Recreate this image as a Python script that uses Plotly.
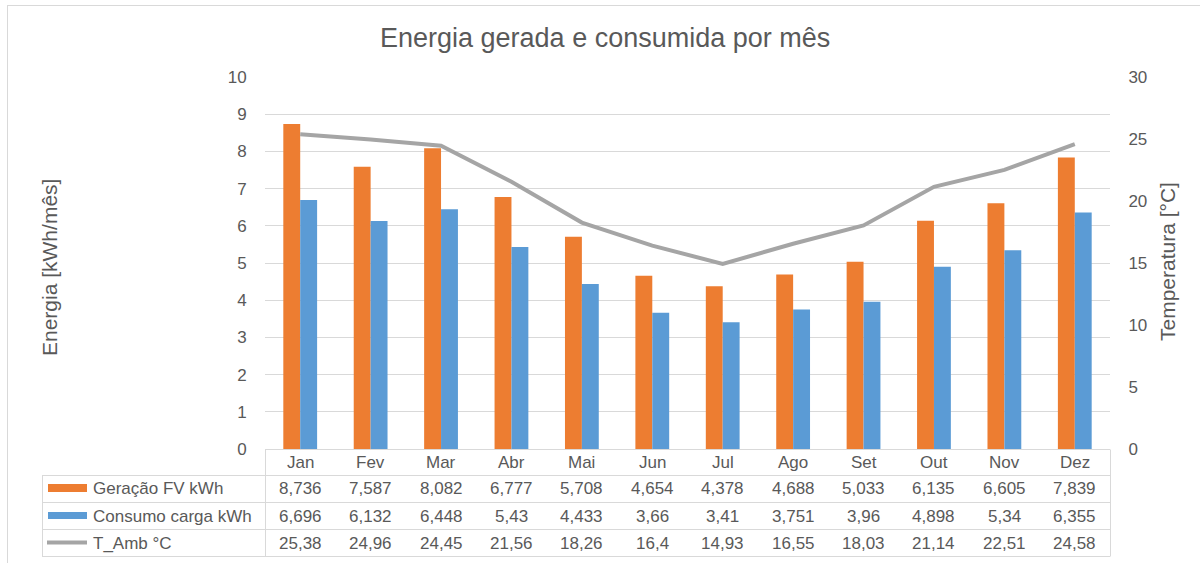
import plotly.graph_objects as go

months = ["Jan", "Fev", "Mar", "Abr", "Mai", "Jun", "Jul", "Ago", "Set", "Out", "Nov", "Dez"]
geracao = [8.736, 7.587, 8.082, 6.777, 5.708, 4.654, 4.378, 4.688, 5.033, 6.135, 6.605, 7.839]
consumo = [6.696, 6.132, 6.448, 5.43, 4.433, 3.66, 3.41, 3.751, 3.96, 4.898, 5.34, 6.355]
t_amb = [25.38, 24.96, 24.45, 21.56, 18.26, 16.4, 14.93, 16.55, 18.03, 21.14, 22.51, 24.58]
series_names = ["Geração FV kWh", "Consumo carga kWh", "T_Amb °C"]

W, H = 1200, 563
PL, PR, PT, PB = 265, 1110, 77, 449
FONT = "Liberation Sans, Arial, sans-serif"
TXT = "#595959"
GRID = "#D9D9D9"
ORANGE = "#ED7D31"
BLUE = "#5B9BD5"
GRAY = "#A5A5A5"


def px_x(px):
    return (px - PL) / (PR - PL)


def px_y(py):
    return (PB - py) / (PB - PT)


def fmt(v):
    return str(v).replace(".", ",")


fig = go.Figure()
fig.add_trace(go.Bar(x=months, y=geracao, name=series_names[0], marker=dict(color=ORANGE, line=dict(width=0))))
fig.add_trace(go.Bar(x=months, y=consumo, name=series_names[1], marker=dict(color=BLUE, line=dict(width=0))))
fig.add_trace(go.Scatter(x=months, y=t_amb, name=series_names[2], mode="lines",
                         line=dict(color=GRAY, width=4), yaxis="y2"))

shapes = []
line_style = dict(color=GRID, width=1)
# outer chart border
shapes.append(dict(type="line", xref="paper", yref="paper", x0=px_x(7), x1=px_x(1205), y0=px_y(5.5), y1=px_y(5.5), line=line_style))
shapes.append(dict(type="line", xref="paper", yref="paper", x0=px_x(7.5), x1=px_x(7.5), y0=px_y(5), y1=px_y(570), line=line_style))
# table lines
shapes.append(dict(type="line", xref="paper", yref="paper", x0=px_x(PL), x1=px_x(PR), y0=px_y(449.5), y1=px_y(449.5), line=line_style))
for yy in [475.5, 502.5, 529.5, 556.5]:
    shapes.append(dict(type="line", xref="paper", yref="paper", x0=px_x(42), x1=px_x(PR), y0=px_y(yy), y1=px_y(yy), line=line_style))
shapes.append(dict(type="line", xref="paper", yref="paper", x0=px_x(42.5), x1=px_x(42.5), y0=px_y(475.5), y1=px_y(556.5), line=line_style))
shapes.append(dict(type="line", xref="paper", yref="paper", x0=px_x(PL + 0.5), x1=px_x(PL + 0.5), y0=px_y(449.5), y1=px_y(556.5), line=line_style))
shapes.append(dict(type="line", xref="paper", yref="paper", x0=px_x(PR + 0.5), x1=px_x(PR + 0.5), y0=px_y(449.5), y1=px_y(556.5), line=line_style))
# legend keys
shapes.append(dict(type="rect", xref="paper", yref="paper", x0=px_x(48), x1=px_x(87), y0=px_y(484), y1=px_y(492), fillcolor=ORANGE, line=dict(width=0)))
shapes.append(dict(type="rect", xref="paper", yref="paper", x0=px_x(48), x1=px_x(87), y0=px_y(512), y1=px_y(519), fillcolor=BLUE, line=dict(width=0)))
shapes.append(dict(type="line", xref="paper", yref="paper", x0=px_x(47), x1=px_x(87), y0=px_y(542.5), y1=px_y(542.5), line=dict(color=GRAY, width=4)))

annotations = []
row_y = [489, 516, 543]
for name, yy in zip(series_names, row_y):
    annotations.append(dict(text=name, xref="paper", yref="paper", x=px_x(91), y=px_y(yy), xanchor="left", yanchor="middle",
                            showarrow=False, font=dict(family=FONT, size=17, color=TXT)))
for i, m in enumerate(months):
    annotations.append(dict(text=m, xref="x", yref="paper", x=m, y=px_y(462), xanchor="center", yanchor="middle",
                            showarrow=False, font=dict(family=FONT, size=17, color=TXT)))
    for vals, yy in zip([geracao, consumo, t_amb], row_y):
        annotations.append(dict(text=fmt(vals[i]), xref="x", yref="paper", x=m, y=px_y(yy), xanchor="center", yanchor="middle",
                                showarrow=False, font=dict(family=FONT, size=17, color=TXT)))
# axis titles
annotations.append(dict(text="Energia [kWh/mês]", xref="paper", yref="paper", x=px_x(49), y=px_y(268), textangle=-90,
                        xanchor="center", yanchor="middle", showarrow=False, font=dict(family=FONT, size=21, color=TXT)))
annotations.append(dict(text="Temperatura [°C]", xref="paper", yref="paper", x=px_x(1167), y=px_y(262), textangle=-90,
                        xanchor="center", yanchor="middle", showarrow=False, font=dict(family=FONT, size=21, color=TXT)))
annotations.append(dict(text="Energia gerada e consumida por mês", xref="paper", yref="paper", x=px_x(605), y=px_y(38),
                        xanchor="center", yanchor="middle", showarrow=False, font=dict(family=FONT, size=27, color=TXT)))

fig.update_layout(
    width=W, height=H,
    margin=dict(l=PL, r=W - PR, t=PT, b=H - PB, pad=0),
    paper_bgcolor="white", plot_bgcolor="white",
    barmode="group", bargap=0.52, bargroupgap=0,
    showlegend=False,
    font=dict(family=FONT, size=17, color=TXT),
    xaxis=dict(showticklabels=False, showline=False, showgrid=False, zeroline=False, ticks=""),
    yaxis=dict(range=[0, 10], dtick=1, showgrid=True, gridcolor=GRID, gridwidth=1, zeroline=False, showline=False,
               ticks="outside", ticklen=14, tickcolor="rgba(0,0,0,0)", tickfont=dict(size=17, color=TXT)),
    yaxis2=dict(range=[0, 30], dtick=5, overlaying="y", side="right", showgrid=False, zeroline=False, showline=False,
                ticks="outside", ticklen=14, tickcolor="rgba(0,0,0,0)", tickfont=dict(size=17, color=TXT)),
    shapes=shapes, annotations=annotations,
)

fig.write_html("out.html", config={"displayModeBar": False},
               post_script="document.body.style.margin='0';document.body.style.overflow='hidden';")
